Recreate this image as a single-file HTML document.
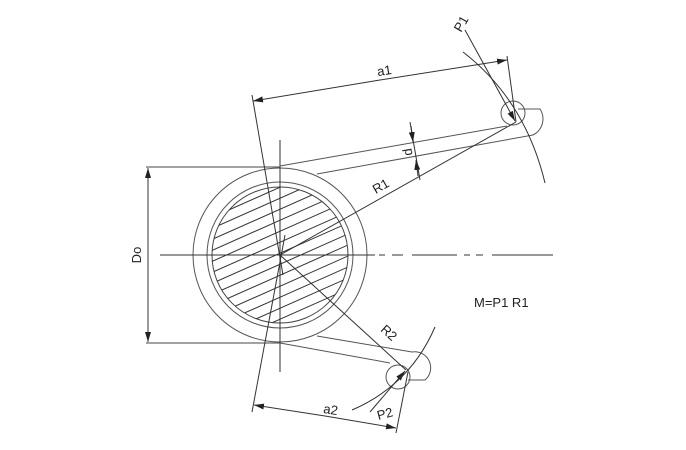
<!DOCTYPE html>
<html><head><style>body{margin:0;background:#fff}svg{display:block}text{font-family:"Liberation Sans",sans-serif;fill:#222}</style></head><body>
<svg width="686" height="450" viewBox="0 0 686 450" xmlns="http://www.w3.org/2000/svg">
<defs>
<marker id="ar" markerWidth="10" markerHeight="6" refX="10" refY="3" orient="auto" markerUnits="userSpaceOnUse"><path d="M0,0 L10,3 L0,6Z" fill="#222"/></marker>
<clipPath id="cp"><circle cx="280" cy="255" r="68"/></clipPath>
</defs>
<g stroke="#333" stroke-width="1" fill="none">
<circle cx="280" cy="255" r="87" stroke="#555"/>
<circle cx="280" cy="255" r="73" stroke="#555"/>
<circle cx="280" cy="255" r="68" stroke="#444"/>
<g clip-path="url(#cp)" stroke="#333">
<path d="M150,300 L420,180 M150,311 L420,191 M150,322 L420,202 M150,333 L420,213 M150,344 L420,224 M150,355 L420,235 M150,366 L420,246 M150,377 L420,257 M150,388 L420,268 M150,399 L420,279 M150,410 L420,290 M150,421 L420,301 M150,289 L420,169 M150,278 L420,158 M150,267 L420,147 M150,256 L420,136 M150,245 L420,125 M150,234 L420,114 M150,223 L420,103 M150,212 L420,92 M150,201 L420,81 M150,190 L420,70"/>
</g>
<path d="M160,255 H375 M379,255 H385 M392,255 H403 M412,255 H457 M464,255 H470 M476,255 H483 M492,255 H553"/>
<path d="M280,140 V372"/>
<path d="M146,167 H280 M146,343 H280" stroke="#444"/>
<path d="M148,255 V168" marker-end="url(#ar)"/>
<path d="M148,255 V342" marker-end="url(#ar)"/>
<path d="M280,166 L507,126 M317,174 L533,135" stroke="#555"/>
<circle cx="513" cy="113" r="12" stroke="#555"/>
<path d="M518,109 L540,109 A18,18 0 0 1 533,135" stroke="#555"/>
<path d="M280,343 L390,363 M317,336 L412,352" stroke="#555"/>
<circle cx="398" cy="377" r="12" stroke="#555"/>
<path d="M412,352 A16,16 0 0 1 425,380 L408,380" stroke="#555"/>
<path d="M252,95 L283,275"/>
<path d="M285,235 L252,412"/>
<path d="M280,255 L516,122"/>
<path d="M280,255 L406,370"/>
<path d="M380,80 L253,101" marker-end="url(#ar)"/>
<path d="M380,80 L507,60" marker-end="url(#ar)"/>
<path d="M507,56 L516,122"/>
<path d="M325,416 L254,405" marker-end="url(#ar)"/>
<path d="M325,416 L396,428" marker-end="url(#ar)"/>
<path d="M408,372 L396,433"/>
<path d="M465,30 L515,121" marker-end="url(#ar)"/>
<path d="M463,52 Q525,100 545,183"/>
<path d="M370,412 L405,371" marker-end="url(#ar)"/>
<path d="M352,410 Q410,385 435,327"/>
<path d="M410,122 L420,180"/>
<path d="M411,126 L413,142" marker-end="url(#ar)"/>
<path d="M418,176 L416,160" marker-end="url(#ar)"/>
</g>
<text x="137" y="255" font-size="13" transform="rotate(-90 137 255)" text-anchor="middle" dy="4">Do</text>
<text x="385" y="75" font-size="13" transform="rotate(-9 385 75)" text-anchor="middle">a1</text>
<text x="330" y="414" font-size="13" transform="rotate(9 330 414)" text-anchor="middle">a2</text>
<text x="465" y="26" font-size="13" transform="rotate(-60 465 26)" text-anchor="middle">P1</text>
<text x="386" y="418" font-size="13" transform="rotate(-15 386 418)" text-anchor="middle">P2</text>
<text x="383" y="190" font-size="13" transform="rotate(-30 383 190)" text-anchor="middle">R1</text>
<text x="386" y="336" font-size="13" transform="rotate(42 386 336)" text-anchor="middle">R2</text>
<text x="408" y="152" font-size="13" transform="rotate(-100 408 152)" text-anchor="middle" dy="4">d</text>
<text x="474" y="307" font-size="13">M=P1  R1</text>
</svg>
</body></html>
